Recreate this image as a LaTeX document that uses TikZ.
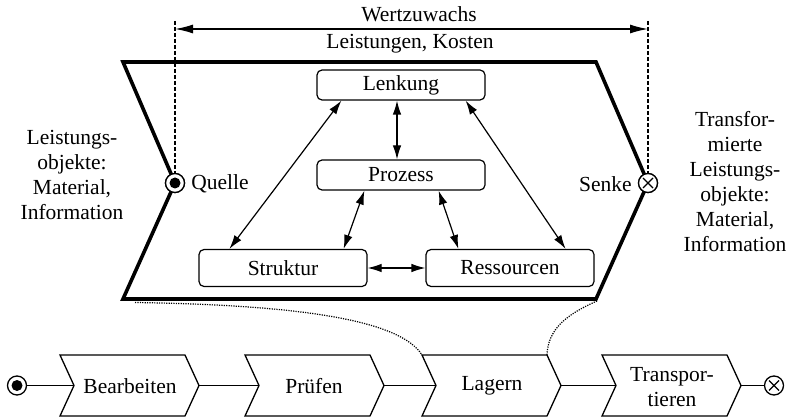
\documentclass[tikz,border=0pt]{standalone}
\usepackage{fontspec}
\setmainfont{Liberation Serif}
\usetikzlibrary{arrows.meta,calc}
\begin{document}
\begin{tikzpicture}[x=1pt,y=-1pt,
  font=\rmfamily\fontsize{21.5}{25}\selectfont,
  every node/.style={inner sep=0pt},
  frame/.style={line width=3.6pt, line join=miter},
  guide/.style={line width=1.2pt, dash pattern=on 4pt off 2pt},
  span/.style={line width=1.4pt, {Latex[length=18pt,width=9pt]}-{Latex[length=18pt,width=9pt]}},
  unit/.style={draw, line width=1.2pt, rounded corners=5pt, minimum width=168pt, minimum height=30pt, fill=white},
  link/.style={line width=1.2pt, {Latex[length=14pt,width=8.5pt]}-{Latex[length=14pt,width=8.5pt]}},
  chain/.style={line width=1.4pt},
  stepshape/.style={draw, line width=1.3pt, line join=miter, fill=white},
  zoomline/.style={line width=1.2pt, dash pattern=on 1.2pt off 1.2pt},
  srcmark/.style={circle, draw, fill=white, line width=1.3pt, minimum size=19pt,
    path picture={\fill[black] (path picture bounding box.center) circle (5.5pt);}},
  sinkmark/.style={circle, draw, fill=white, line width=1.3pt, minimum size=19pt,
    path picture={\draw[black, line width=1.1pt] (path picture bounding box.center) +(-5,-5) -- +(5,5)
      (path picture bounding box.center) +(-5,5) -- +(5,-5);}},
  multi/.style={align=center}
]
\useasboundingbox (0,0) rectangle (791,419);

% ---------- process frame (chevron) ----------
\coordinate (tl) at (123,62);
\coordinate (tr) at (596,62);
\coordinate (rv) at (648,183);
\coordinate (br) at (596,299);
\coordinate (bl) at (123,299);
\coordinate (lv) at (175,183);

% value-added span
\coordinate (gl) at (175,21);
\coordinate (gr) at (648,21);
\coordinate (sl) at (175,29);
\coordinate (sr) at (648,29);

\node[srcmark]  (quelle) at (lv) {};
\node[sinkmark] (senke)  at (rv) {};

\draw[guide] (gl) -- (quelle.north);
\draw[guide] (gr) -- (senke.north);
\draw[span] (sl) -- (sr);
\node (wz) at (419,14) {Wertzuwachs};
\node (lk) at (410,44) {Leistungen, Kosten};

\draw[frame] (tl) -- (tr) -- (rv) -- (br) -- (bl) -- (lv) -- cycle;
\node[srcmark]  at (lv) {};
\node[sinkmark] at (rv) {};

\node[anchor=west] (ql) at ($(quelle.east)+(6,1)$) {Quelle};
\node[anchor=east] (sk) at ($(senke.west)+(-6,1)$) {Senke};

\node[multi] (inp) at (72,175) {Leistungs-\\objekte:\\Material,\\Information};
\node[multi] (outp) at (735,182) {Transfor-\\mierte\\Leistungs-\\objekte:\\Material,\\Information};

% ---------- inner model ----------
\node[unit] (lenk)  at (401,85)  {Lenkung};
\node[unit] (proz)  at (401,175) {Prozess};
\node[unit, minimum height=37pt] (strukt) at (283,268) {Struktur};
\node[unit, minimum height=37pt] (ress)   at (510,268) {Ressourcen};

\draw[link] ($(lenk.south west)+(25,0)$) -- ($(strukt.north west)+(31,0)$);
\draw[link] ($(lenk.south east)+(-20,0)$) -- ($(ress.north east)+(-29,0)$);
\draw[link] ($(lenk.south)+(-4,0)$) -- ($(proz.north)+(-4,0)$);
\draw[link] ($(proz.south west)+(48,0)$) -- ($(strukt.north east)+(-24,0)$);
\draw[link] ($(proz.south east)+(-47,0)$) -- ($(ress.north west)+(33,0)$);
\draw[link] (strukt.east) -- (ress.west);

% ---------- process chain ----------
\node[srcmark]  (start) at (17,385.5) {};
\node[sinkmark] (stop)  at (774,385.5) {};

\foreach \nm/\L in {s1/60, s2/245, s3/422, s4/602}{
  \draw[stepshape] (\L,355) coordinate (\nm-tl) -- (\L+125,355) coordinate (\nm-tr)
    -- (\L+139,385.5) coordinate (\nm-out) -- (\L+125,416) -- (\L,416)
    -- (\L+14,385.5) coordinate (\nm-in) -- cycle;
}
\node (t1) at (130,386) {Bearbeiten};
\node (t2) at (314,386) {Prüfen};
\node (t3) at (492,386) {Lagern};
\node[multi] (t4) at (672,387) {Transpor-\\tieren};

\draw[chain] (start.east) -- (s1-in);
\draw[chain] (s1-out) -- (s2-in);
\draw[chain] (s2-out) -- (s3-in);
\draw[chain] (s3-out) -- (s4-in);
\draw[chain] (s4-out) -- (stop.west);

% detail lines from the frame down to the storage step
\draw[zoomline] ($(bl)+(12,3.5)$) .. controls (300,305) and (400,320) .. (s3-tl);
\draw[zoomline] ($(br)+(1,2)$) .. controls (565,315) and (548,330) .. (s3-tr);
\end{tikzpicture}
\end{document}
